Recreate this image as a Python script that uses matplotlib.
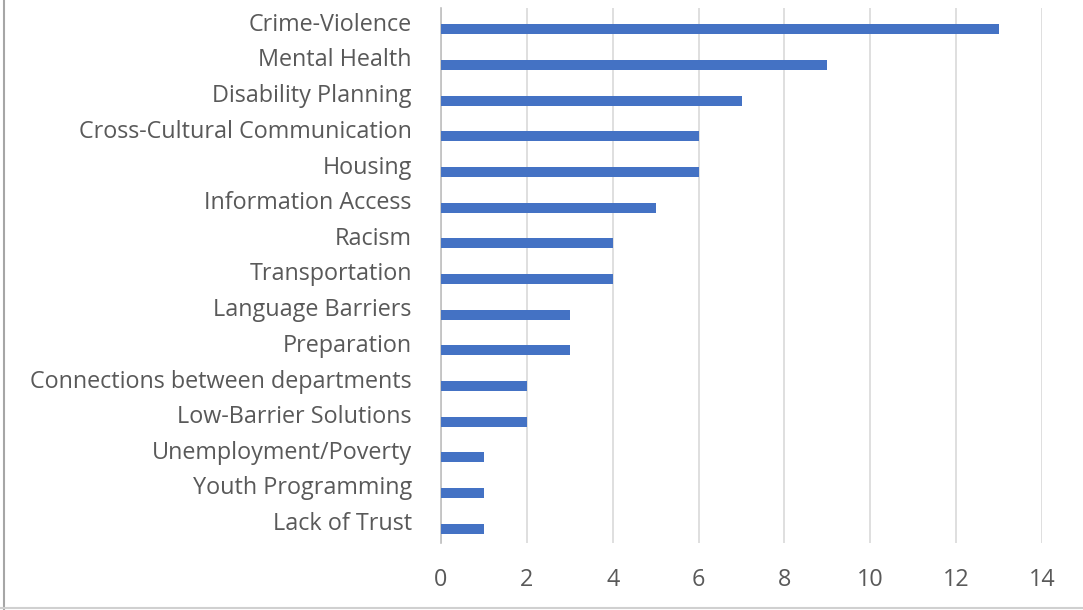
import matplotlib
matplotlib.use("Agg")
import matplotlib.pyplot as plt
import matplotlib.transforms as mtransforms
from matplotlib.lines import Line2D

categories = ["Crime-Violence", "Mental Health", "Disability Planning",
              "Cross-Cultural Communication", "Housing", "Information Access",
              "Racism", "Transportation", "Language Barriers", "Preparation",
              "Connections between departments", "Low-Barrier Solutions",
              "Unemployment/Poverty", "Youth Programming", "Lack of Trust"]
values = [13, 9, 7, 6, 6, 5, 4, 4, 3, 3, 2, 2, 1, 1, 1]
xticks = [0, 2, 4, 6, 8, 10, 12, 14]

plt.rcParams['font.family'] = ['Open Sans', 'DejaVu Sans']
fig = plt.figure(figsize=(10.83, 6.10), dpi=100)
ax = fig.add_axes([441/1083, 67/610, 601/1083, 535/610])

pos = list(range(len(categories)))
ax.barh([p + 0.1 for p in pos], values, height=0.28, color="#4472C4", zorder=3)

ax.set_xlim(0, 14)
ax.set_ylim(14.5, -0.5)
ax.set_xticks(xticks)
ax.set_xticklabels([str(t) for t in xticks])
ax.set_yticks(pos)
ax.set_yticklabels(categories)
ax.tick_params(axis='y', length=0, pad=21, labelsize=16.8, labelcolor="#595959")
ax.tick_params(axis='x', length=0, pad=18, labelsize=16.8, labelcolor="#595959")
offset = mtransforms.ScaledTranslation(0, 4/100, fig.dpi_scale_trans)
for lbl in ax.get_yticklabels():
    lbl.set_transform(lbl.get_transform() + offset)

ax.grid(axis='x', color="#D9D9D9", linewidth=1.2, zorder=0)
for s in ['top', 'right', 'bottom']:
    ax.spines[s].set_visible(False)
ax.spines['left'].set_color("#BFBFBF")
ax.spines['left'].set_linewidth(1.2)

# figure border (left and bottom)
fig.add_artist(Line2D([4/1083, 4/1083], [0, 1], color="#A6A6A6", linewidth=1.5, transform=fig.transFigure))
fig.add_artist(Line2D([0, 1], [2/610, 2/610], color="#D0D0D0", linewidth=1.5, transform=fig.transFigure))

fig.savefig("out.png", dpi=100)
